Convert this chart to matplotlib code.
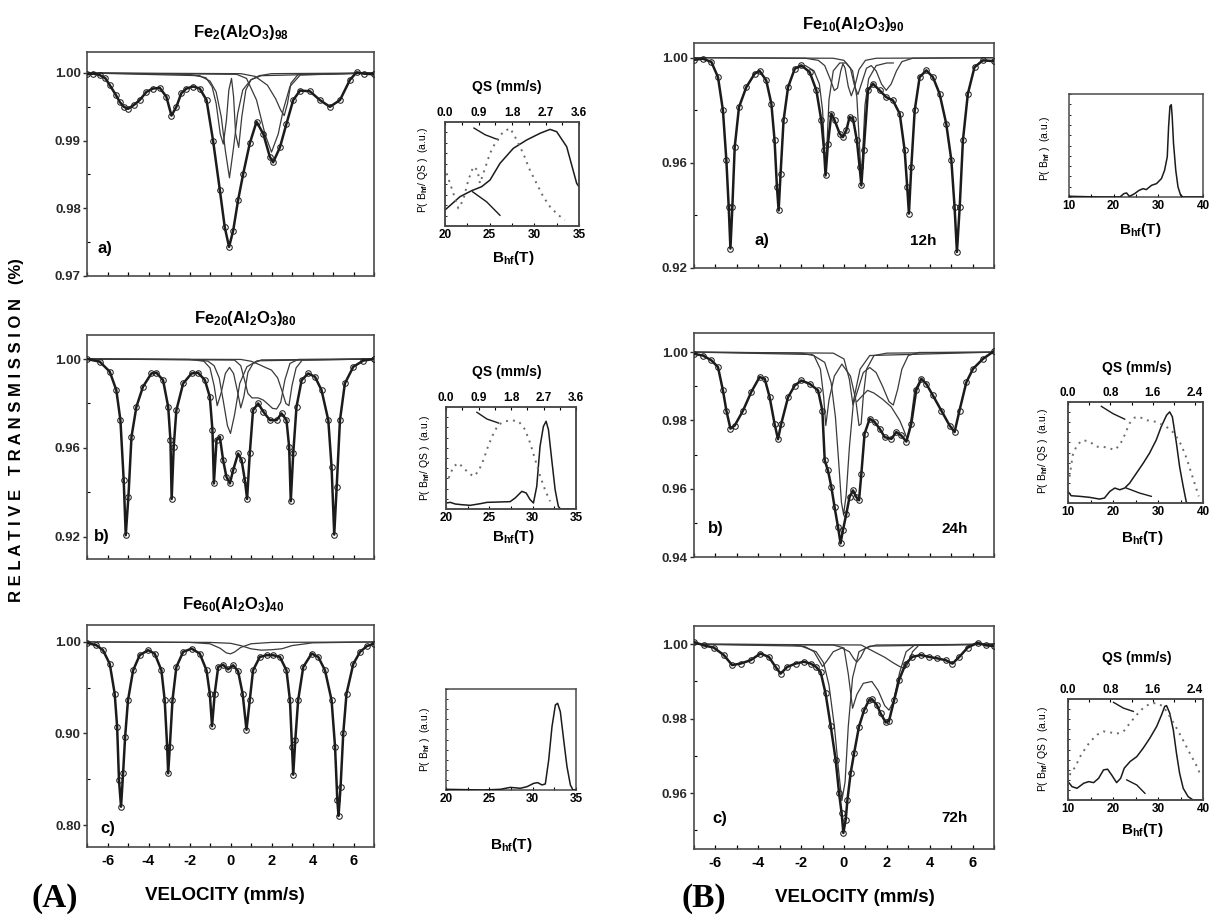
import numpy as np
import matplotlib
matplotlib.use("Agg")
import matplotlib.pyplot as plt
from matplotlib.ticker import MultipleLocator, NullLocator

plt.rcParams['font.family'] = ['Liberation Sans', 'DejaVu Sans']
plt.rcParams['font.weight'] = 'bold'
plt.rcParams['axes.unicode_minus'] = False
plt.rcParams['mathtext.fontset'] = 'custom'
plt.rcParams['mathtext.rm'] = 'Liberation Sans:bold'
plt.rcParams['mathtext.it'] = 'Liberation Sans:bold'
plt.rcParams['mathtext.bf'] = 'Liberation Sans:bold'
plt.rcParams['mathtext.default'] = 'bf'

# ---------------- DATA: Mossbauer spectra (velocity mm/s, relative transmission) -------------
# (A-a) Fe2(Al2O3)98
vel_Aa = [-7.0,-6.7,-6.38,-6.1,-5.89,-5.6,-5.4,-5.2,-5.0,-4.7,-4.43,-4.1,-3.78,-3.45,-3.13,-2.88,-2.64,-2.4,-2.15,-1.82,
          -1.5,-1.17,-0.85,-0.52,-0.28,-0.07,0.13,0.37,0.62,0.94,1.27,1.6,1.92,2.08,2.41,2.73,3.06,3.39,3.87,4.36,
          4.85,5.34,5.83,6.15,6.5,7.0]
tr_Aa = [0.9998,0.9999,0.9997,0.9992,0.9982,0.9968,0.9957,0.9950,0.9947,0.9953,0.9960,0.9972,0.9977,0.9978,0.9965,0.9937,0.9950,0.9970,0.9977,0.9980,
         0.9977,0.9960,0.9900,0.9827,0.9772,0.9743,0.9767,0.9812,0.9851,0.9896,0.9928,0.9910,0.9876,0.9868,0.9890,0.9925,0.9960,0.9974,0.9973,0.9960,
         0.9950,0.9960,0.9990,1.0001,0.9999,0.9998]
c1v_Aa = [-7,-1.5,-1.0,-0.7,-0.45,-0.25,-0.05,0.15,0.35,0.6,1.0,1.5,7]
c1t_Aa = [1.0,0.9996,0.9988,0.9972,0.9935,0.9885,0.9845,0.9890,0.9940,0.9975,0.9990,0.9996,1.0]
c2v_Aa = [-7,-2.0,-1.2,-0.9,-0.7,-0.5,-0.35,-0.2,-0.08,0.05,0.15,0.25,0.4,0.55,0.75,1.0,1.4,2.0,7]
c2t_Aa = [1.0,0.9998,0.9993,0.9980,0.9955,0.9910,0.9895,0.9930,0.9975,0.9992,0.9965,0.9910,0.9890,0.9935,0.9975,0.9990,0.9996,0.9999,1.0]
c3v_Aa = [-7,0.3,0.78,1.27,1.68,2.0,2.33,2.57,2.9,3.4,7]
c3t_Aa = [1.0,0.9998,0.9992,0.9960,0.9910,0.9883,0.9910,0.9945,0.9980,0.9997,1.0]
c4v_Aa = [-7,0.5,1.2,1.8,2.2,2.45,2.62,2.78,2.95,3.3,7]
c4t_Aa = [1.0,0.9999,0.9995,0.9982,0.9962,0.9945,0.9937,0.9955,0.9985,0.9998,1.0]

# (A-b) Fe20(Al2O3)80
vel_Ab = [-7.0,-6.38,-5.89,-5.57,-5.37,-5.21,-5.11,-4.98,-4.83,-4.59,-4.27,-3.86,-3.61,-3.29,-3.04,-2.93,-2.87,-2.77,-2.64,-2.31,
          -1.9,-1.58,-1.25,-1.01,-0.88,-0.81,-0.68,-0.52,-0.36,-0.2,-0.03,0.13,0.37,0.54,0.7,0.81,0.94,1.1,1.35,1.6,
          1.92,2.25,2.49,2.73,2.86,2.94,3.06,3.22,3.47,3.79,4.12,4.44,4.77,4.93,5.06,5.18,5.34,5.58,5.99,6.48,7.0]
tr_Ab = [1.0,0.9988,0.9943,0.986,0.9725,0.9455,0.9207,0.938,0.965,0.9785,0.9875,0.9935,0.9938,0.9905,0.9785,0.9635,0.9370,0.9605,0.977,0.989,
         0.9935,0.9938,0.9905,0.983,0.968,0.9440,0.9635,0.965,0.9545,0.947,0.944,0.950,0.9575,0.9545,0.9455,0.9370,0.9575,0.977,0.980,0.9763,
         0.9725,0.9725,0.9755,0.9725,0.9605,0.9360,0.9575,0.9785,0.9905,0.9935,0.992,0.986,0.9725,0.9515,0.9210,0.9425,0.9725,0.989,0.9965,0.9993,1.0]
c1v_Ab = [-7,-1.6,-1.1,-0.8,-0.55,-0.35,-0.15,0.0,0.2,0.45,0.8,1.3,7]
c1t_Ab = [1.0,0.9997,0.999,0.997,0.9915,0.981,0.970,0.9665,0.975,0.989,0.9965,0.9992,1.0]
c2v_Ab = [-7,-2.0,-1.3,-1.0,-0.8,-0.65,-0.45,-0.25,-0.05,0.15,0.35,0.5,0.65,0.85,1.1,1.5,7]
c2t_Ab = [1.0,0.9998,0.999,0.996,0.988,0.979,0.985,0.9935,0.9962,0.9935,0.985,0.978,0.983,0.994,0.998,0.9996,1.0]
c3v_Ab = [-7,0.2,0.5,0.7,0.85,1.05,1.35,1.6,1.85,2.05,2.25,2.45,2.65,2.9,3.3,7]
c3t_Ab = [1.0,0.9995,0.997,0.990,0.9845,0.9825,0.9825,0.9815,0.9795,0.9778,0.9775,0.9805,0.9905,0.998,0.9998,1.0]
c4v_Ab = [-7,0.5,1.0,1.4,1.7,2.0,2.3,2.5,2.7,2.85,3.0,3.2,3.5,7]
c4t_Ab = [1.0,0.9998,0.9990,0.9975,0.9962,0.9950,0.9915,0.9860,0.9800,0.9790,0.9880,0.9960,0.9995,1.0]

# (A-c) Fe60(Al2O3)40
vel_Ac = [-7.0,-6.54,-6.22,-5.89,-5.65,-5.53,-5.44,-5.34,-5.24,-5.14,-5.0,-4.75,-4.43,-4.02,-3.7,-3.37,-3.21,-3.09,-3.04,-2.96,
          -2.83,-2.64,-2.31,-1.9,-1.5,-1.17,-1.01,-0.9,-0.77,-0.6,-0.36,-0.12,0.13,0.37,0.59,0.78,0.94,1.1,1.43,1.76,
          2.08,2.41,2.73,2.9,3.0,3.06,3.16,3.3,3.55,3.96,4.28,4.61,4.93,5.1,5.21,5.27,5.37,5.5,5.66,5.99,
          6.32,6.64,7.0]
tr_Ac = [0.9989,0.9964,0.991,0.976,0.9436,0.9073,0.849,0.82,0.8564,0.8964,0.9364,0.969,0.9855,0.991,0.9873,0.969,0.9364,0.8855,0.8564,0.8855,
         0.9364,0.9727,0.9891,0.9927,0.9873,0.969,0.9436,0.908,0.9436,0.9727,0.975,0.970,0.9745,0.968,0.9436,0.904,0.9364,0.969,0.9836,0.9855,
         0.9855,0.9836,0.969,0.9364,0.8855,0.855,0.8927,0.9364,0.9727,0.9873,0.9836,0.969,0.9364,0.8855,0.8273,0.810,0.8418,0.900,0.9436,0.976,
         0.9891,0.9953,0.9982]
c1v_Ac = [-7,-2,-1,-0.5,-0.2,0.0,0.2,0.5,1,2,7]
c1t_Ac = [1.0,0.9995,0.998,0.993,0.988,0.987,0.989,0.994,0.998,0.9995,1.0]
c2v_Ac = [-7,-1,0,0.5,1.0,1.5,2.0,2.5,3.0,4.0,7]
c2t_Ac = [1.0,0.9995,0.9985,0.996,0.9925,0.991,0.9915,0.9925,0.996,0.999,1.0]

# (B-a) Fe10(Al2O3)90, 12h
vel_Ba = [-7.0,-6.58,-6.19,-5.88,-5.65,-5.49,-5.38,-5.3,-5.21,-5.1,-4.9,-4.56,-4.17,-3.94,-3.63,-3.39,-3.24,-3.13,-3.05,-2.96,
          -2.82,-2.61,-2.3,-1.99,-1.6,-1.29,-1.06,-0.93,-0.86,-0.75,-0.59,-0.44,-0.2,-0.05,0.11,0.26,0.42,0.6,0.73,0.81,
          0.92,1.12,1.35,1.66,1.97,2.28,2.6,2.83,2.95,3.03,3.14,3.3,3.53,3.84,4.15,4.46,4.77,5.01,5.16,5.27,
          5.4,5.55,5.78,6.09,6.48,7.0]
tr_Ba = [0.9992,0.9996,0.9984,0.9926,0.980,0.961,0.9432,0.9274,0.9432,0.966,0.9812,0.9888,0.9939,0.995,0.9914,0.9825,0.9686,0.9508,0.9419,0.9559,
         0.9762,0.9888,0.9958,0.9971,0.9945,0.9876,0.9762,0.9648,0.9552,0.9673,0.9787,0.9762,0.9711,0.9698,0.9724,0.9774,0.9768,0.9686,0.9584,0.9514,
         0.9648,0.9876,0.9901,0.9876,0.985,0.9838,0.9787,0.9648,0.9508,0.9407,0.9584,0.980,0.9926,0.9952,0.9926,0.9863,0.9749,0.961,0.9432,0.9261,
         0.9432,0.9686,0.9863,0.9964,0.999,0.9987]
c1v_Ba = [-7,-1.8,-1.2,-0.9,-0.65,-0.45,-0.3,-0.15,-0.05,0.05,0.2,0.34,0.5,0.7,1.0,1.5,7]
c1t_Ba = [1.0,0.9998,0.999,0.997,0.992,0.9875,0.9885,0.995,0.9977,0.996,0.989,0.9855,0.989,0.9955,0.999,0.9998,1.0]
c2v_Ba = [-7,-0.5,0.0,0.3,0.5,0.65,0.85,1.05,1.27,1.5,1.75,1.97,2.2,2.45,2.7,3.2,7]
c2t_Ba = [1.0,0.9998,0.999,0.996,0.989,0.986,0.991,0.996,0.997,0.995,0.990,0.9876,0.990,0.995,0.9985,0.9998,1.0]
c3v_Ba = [-2.3,-1.8,-1.4,-1.15,-1.0,-0.92,-0.86,-0.8,-0.7,-0.5,-0.2,0.1,0.4,0.6,0.72,0.81,0.88,0.98,1.15,1.5,2.0,2.3]
c3t_Ba = [0.9958,0.997,0.995,0.990,0.980,0.966,0.9565,0.966,0.984,0.995,0.998,0.998,0.995,0.985,0.967,0.9525,0.965,0.982,0.992,0.997,0.998,0.998]

# (B-b) 24h
vel_Bb = [-7.0,-6.58,-6.19,-5.88,-5.65,-5.49,-5.3,-5.1,-4.71,-4.33,-3.94,-3.7,-3.47,-3.24,-3.08,-2.93,-2.61,-2.3,-1.99,-1.6,
          -1.21,-1.01,-0.9,-0.75,-0.59,-0.44,-0.28,-0.16,-0.05,0.11,0.26,0.42,0.57,0.7,0.81,0.96,1.2,1.43,1.66,1.9,
          2.21,2.44,2.67,2.91,3.14,3.37,3.61,3.84,4.15,4.54,4.93,5.16,5.39,5.71,6.02,6.48,7.0]
tr_Bb = [0.9995,0.999,0.9976,0.9956,0.9888,0.9829,0.9776,0.9785,0.9829,0.9883,0.9927,0.9922,0.9868,0.979,0.9745,0.979,0.9868,0.9902,0.9917,0.9907,
         0.9888,0.9829,0.9683,0.9654,0.9605,0.9546,0.9488,0.9440,0.9478,0.9527,0.9576,0.9595,0.9576,0.9566,0.9644,0.9761,0.9805,0.9795,0.9776,0.9751,
         0.9746,0.9766,0.9756,0.9738,0.979,0.9888,0.9922,0.9907,0.9873,0.9829,0.9785,0.9766,0.9829,0.9912,0.9951,0.998,1.0003]
c1v_Bb = [-7,-1.5,-0.9,-0.6,-0.4,-0.25,-0.12,-0.02,0.1,0.25,0.45,0.75,1.2,7]
c1t_Bb = [1.0,0.9993,0.997,0.991,0.981,0.968,0.956,0.9525,0.958,0.972,0.986,0.995,0.999,1.0]
c2v_Bb = [-7,-2.0,-1.4,-1.1,-0.95,-0.85,-0.7,-0.45,-0.1,0.3,0.55,0.7,0.8,0.9,1.05,1.4,2.0,7]
c2t_Bb = [1.0,0.9997,0.999,0.995,0.987,0.9785,0.986,0.993,0.9965,0.993,0.986,0.9785,0.979,0.987,0.995,0.999,0.9997,1.0]
c3v_Bb = [-7,-0.5,0.0,0.25,0.42,0.6,0.9,1.2,1.5,1.8,2.1,2.3,2.5,2.7,3.0,3.5,7]
c3t_Bb = [1.0,0.9997,0.998,0.992,0.9845,0.988,0.994,0.9955,0.994,0.990,0.9855,0.9845,0.989,0.995,0.999,0.9999,1.0]
c4v_Bb = [0.6,0.9,1.1,1.4,1.8,2.2,2.6,2.8,2.95,3.1,3.3,3.6]
c4t_Bb = [0.9855,0.9875,0.9888,0.9880,0.9862,0.984,0.980,0.977,0.9745,0.979,0.9888,0.9922]

# (B-c) 72h
vel_Bc = [-7.0,-6.55,-6.08,-5.61,-5.22,-4.83,-4.36,-3.9,-3.51,-3.19,-2.96,-2.65,-2.26,-1.87,-1.56,-1.32,-1.09,-0.86,-0.62,-0.39,
          -0.23,-0.11,-0.03,0.08,0.16,0.31,0.47,0.7,0.94,1.17,1.32,1.53,1.71,1.95,2.1,2.34,2.57,2.88,3.19,3.58,
          3.97,4.36,4.75,5.06,5.38,5.77,6.23,6.62,7.0]
tr_Bc = [1.0006,0.9997,0.9991,0.9971,0.9944,0.9948,0.9957,0.9975,0.9966,0.9939,0.9921,0.9939,0.9948,0.9953,0.9948,0.9940,0.9925,0.9868,0.9780,0.9690,
         0.9600,0.9546,0.9493,0.9529,0.9582,0.9654,0.9707,0.9779,0.9823,0.9850,0.9852,0.9837,0.9814,0.9790,0.9794,0.9850,0.9904,0.9948,0.9966,0.9971,
         0.9966,0.9962,0.9957,0.9948,0.9966,0.9991,1.0004,0.9997,0.9995]
c1v_Bc = [-7,-2.0,-1.3,-0.95,-0.7,-0.45,-0.25,-0.1,0.05,0.2,0.4,0.7,1.2,7]
c1t_Bc = [1.0,0.9995,0.998,0.995,0.989,0.978,0.966,0.958,0.963,0.978,0.991,0.998,0.9995,1.0]
c2v_Bc = [-7,-2.5,-1.8,-1.4,-1.15,-1.0,-0.8,-0.5,-0.1,0.25,0.45,0.6,0.78,1.0,1.5,7]
c2t_Bc = [1.0,0.9999,0.9993,0.998,0.9955,0.9940,0.9955,0.998,0.999,0.998,0.9962,0.9952,0.9965,0.999,0.9998,1.0]
c3v_Bc = [-7,-0.5,0.0,0.2,0.4,0.6,0.9,1.3,1.6,1.9,2.1,2.3,2.6,2.9,3.3,7]
c3t_Bc = [1.0,0.9998,0.999,0.992,0.9828,0.9865,0.9895,0.9900,0.9875,0.9835,0.9823,0.9845,0.9925,0.998,0.9998,1.0]
c4v_Bc = [-7,0.8,1.4,1.9,2.3,2.6,2.85,3.0,3.2,3.5,7]
c4t_Bc = [1.0,0.9998,0.998,0.9965,0.995,0.994,0.9935,0.995,0.998,0.9998,1.0]

# ---------------- DATA: distributions P(Bhf) (solid) and P(QS) (dotted) ----------------------
bhf_Aa = [20.0,21.68,22.99,24.1,25.04,26.16,27.65,29.14,30.63,31.75,32.5,33.62,34.74,35.0]
pb_Aa = [0.154,0.282,0.340,0.378,0.442,0.603,0.747,0.827,0.891,0.929,0.907,0.763,0.41,0.378]
qs_Aa = [0.045,0.224,0.358,0.49,0.627,0.76,0.87,0.94,1.03,1.21,1.39,1.57,1.75,1.88,2.10,2.28,2.46,2.64,2.82,3.04,3.22]
pq_Aa = [0.506,0.314,0.170,0.25,0.442,0.571,0.538,0.41,0.506,0.699,0.827,0.907,0.94,0.859,0.699,0.538,0.41,0.282,0.186,0.106,0.058]

bhf_Ab = [20.0,20.5,21.07,21.84,22.8,23.95,24.72,26.25,27.4,27.98,28.75,29.25,29.7,30.09,30.47,30.85,31.24,31.55,31.82,32.2,32.59,32.96,33.2,35.0]
pb_Ab = [0.059,0.065,0.049,0.042,0.036,0.052,0.065,0.069,0.072,0.108,0.173,0.157,0.092,0.059,0.222,0.614,0.81,0.86,0.778,0.484,0.19,0.026,0.0,0.0]
qs_Ab = [0.074,0.21,0.35,0.49,0.63,0.76,0.9,1.04,1.18,1.32,1.45,1.64,1.82,2.01,2.19,2.33,2.47,2.61,2.74,2.88]
pq_Ab = [0.304,0.418,0.45,0.40,0.353,0.32,0.369,0.484,0.63,0.745,0.827,0.86,0.869,0.86,0.778,0.647,0.484,0.32,0.19,0.075]

bhf_Ac = [20.0,24.35,26.27,27.42,28.58,29.35,30.12,30.58,31.08,31.46,31.85,32.23,32.62,32.88,33.19,33.58,33.96,34.35,34.65,35.0]
pb_Ac = [0.007,0.0,0.007,0.026,0.017,0.033,0.066,0.073,0.05,0.06,0.297,0.627,0.842,0.858,0.776,0.495,0.231,0.05,0.0,0.0]

bhf_Ba = [10.0,16.9,21.4,22.3,22.9,23.5,24.0,24.7,25.7,26.6,27.3,28.5,29.6,30.7,31.4,32.0,32.3,32.6,32.9,33.1,33.4,33.9,34.4,35.0,35.5,40.0]
pb_Ba = [0.007,0.0,0.0,0.033,0.039,0.007,0.016,0.033,0.065,0.081,0.072,0.114,0.13,0.179,0.26,0.39,0.684,0.88,0.896,0.782,0.521,0.26,0.098,0.016,0.0,0.0]

bhf_Bb = [10.0,10.7,12.6,14.8,17.0,18.1,19.3,20.4,21.5,22.6,23.7,25.2,26.7,28.1,29.6,30.7,31.9,32.6,33.2,34.1,34.8,35.6,36.3,36.7,40.0]
pb_Bb = [0.115,0.072,0.066,0.056,0.039,0.049,0.115,0.148,0.131,0.148,0.197,0.295,0.393,0.492,0.623,0.754,0.869,0.902,0.852,0.59,0.36,0.164,0.007,0.0,0.0]
qs_Bb = [0.03,0.09,0.17,0.28,0.41,0.54,0.66,0.79,0.88,0.98,1.07,1.16,1.26,1.35,1.48,1.67,1.86,2.01,2.14,2.24,2.33,2.42,2.47]
pq_Bb = [0.262,0.475,0.574,0.623,0.607,0.557,0.557,0.541,0.525,0.574,0.672,0.787,0.846,0.852,0.82,0.803,0.754,0.689,0.574,0.443,0.295,0.148,0.066]

bhf_Bc = [10.0,10.9,12.0,13.5,14.6,15.7,16.8,17.9,18.8,19.7,20.8,21.7,22.5,23.8,25.3,26.7,28.2,29.7,30.8,31.5,31.9,32.6,33.4,34.1,34.8,35.6,36.7,37.8,40.0]
pb_Bc = [0.182,0.132,0.116,0.166,0.182,0.172,0.215,0.298,0.305,0.248,0.172,0.215,0.315,0.381,0.43,0.513,0.613,0.728,0.844,0.927,0.934,0.861,0.695,0.464,0.265,0.116,0.033,0.0,0.0]
qs_Bc = [0.03,0.14,0.23,0.33,0.42,0.55,0.67,0.8,0.92,1.05,1.17,1.3,1.42,1.55,1.67,1.8,1.92,2.05,2.17,2.3,2.42,2.49]
pq_Bc = [0.248,0.331,0.43,0.513,0.579,0.646,0.679,0.669,0.656,0.679,0.762,0.844,0.911,0.954,0.96,0.927,0.828,0.712,0.596,0.464,0.348,0.265]

# ---------------- FIGURE ----------------
W, H = 1219, 918
fig = plt.figure(figsize=(W / 100, H / 100), dpi=100)
INK = '#1b1b1b'
GRY = '#3a3a3a'


def add_ax(l, r, t, b):
    return fig.add_axes([l / W, 1 - b / H, (r - l) / W, (b - t) / H])


def ftext(x, y, s, **kw):
    kw.setdefault('ha', 'center')
    kw.setdefault('va', 'center')
    return fig.text(x / W, 1 - y / H, s, **kw)


def style_spines(ax, lw=1.2):
    for sp in ax.spines.values():
        sp.set_linewidth(lw)
        sp.set_color('#4a4a4a')


def main_panel(box, v, t, comps, ylim, ymaj, ymin, show_x=False):
    ax = add_ax(*box)
    for cv, ct in comps:
        ax.plot(cv, ct, color=GRY, lw=0.9, zorder=2)
    ax.plot(v, t, color=INK, lw=1.8, zorder=3)
    ax.plot(v, t, ls='none', marker='o', ms=4.0, mfc='none', mec='#202020', mew=0.75, zorder=4)
    ax.set_xlim(-7, 7)
    ax.set_ylim(*ylim)
    ax.xaxis.set_major_locator(MultipleLocator(2))
    ax.xaxis.set_minor_locator(MultipleLocator(1))
    ax.set_yticks(ymaj)
    ax.set_yticks(ymin, minor=True)
    ax.set_yticklabels(['%.2f' % y for y in ymaj])
    ax.tick_params(axis='y', which='major', direction='out', length=3, width=1.0, labelsize=9.5, pad=1.5,
                   colors='#2a2a2a')
    ax.tick_params(axis='y', which='minor', direction='in', length=2.5, width=0.8)
    ax.tick_params(axis='x', which='both', direction='in', length=3, width=0.9, labelsize=10.5, pad=5,
                   labelbottom=show_x)
    style_spines(ax)
    return ax


def inset(box, blim, bmaj, bmin, b, pb, qs=None, pq=None, qlim=None, qmaj=None, qmin=None, arrows=()):
    ax = add_ax(*box)
    ax.plot(b, pb, color=INK, lw=1.1, zorder=3)
    ax.set_xlim(*blim)
    ax.set_ylim(0, 1)
    ax.set_xticks(bmaj)
    ax.set_xticks(bmin, minor=True)
    ax.set_xticklabels([str(x) for x in bmaj])
    ax.yaxis.set_major_locator(NullLocator())
    ax.yaxis.set_minor_locator(MultipleLocator(0.1))
    ax.tick_params(axis='x', which='both', direction='in', length=2.5, width=0.8, labelsize=8.5, pad=2)
    ax.tick_params(axis='y', which='minor', direction='in', length=1.5, width=0.6)
    style_spines(ax, 1.1)
    if qs is not None:
        axt = ax.twiny()
        axt.plot(qs, pq, color='#6a6a6a', lw=1.4, ls=(0, (1, 2.6)), zorder=2)
        axt.set_xlim(*qlim)
        axt.set_xticks(qmaj)
        axt.set_xticks(qmin, minor=True)
        axt.set_xticklabels(['%.1f' % q for q in qmaj])
        axt.tick_params(axis='x', which='both', direction='in', length=2.5, width=0.8, labelsize=8.5, pad=2)
        style_spines(axt, 1.1)
    for xs, ys in arrows:
        ax.plot(xs, ys, transform=ax.transAxes, color=INK, lw=1.0)
    return ax


# main panels (A)
main_panel((87, 374, 52, 276), vel_Aa, tr_Aa,
           [(c1v_Aa, c1t_Aa), (c2v_Aa, c2t_Aa), (c3v_Aa, c3t_Aa), (c4v_Aa, c4t_Aa)],
           (0.97, 1.0031), [0.97, 0.98, 0.99, 1.00], [0.975, 0.985, 0.995])
main_panel((87, 374, 335, 559), vel_Ab, tr_Ab,
           [(c1v_Ab, c1t_Ab), (c2v_Ab, c2t_Ab), (c3v_Ab, c3t_Ab), (c4v_Ab, c4t_Ab)],
           (0.910, 1.0108), [0.92, 0.96, 1.00], [0.94, 0.98])
main_panel((87, 374, 625, 847), vel_Ac, tr_Ac,
           [(c1v_Ac, c1t_Ac), (c2v_Ac, c2t_Ac)],
           (0.776, 1.0185), [0.80, 0.90, 1.00], [0.85, 0.95], show_x=True)
# main panels (B)
main_panel((694, 994, 43, 268), vel_Ba, tr_Ba,
           [(c1v_Ba, c1t_Ba), (c2v_Ba, c2t_Ba), (c3v_Ba, c3t_Ba)],
           (0.92, 1.0056), [0.92, 0.96, 1.00], [0.94, 0.98])
main_panel((694, 994, 333, 557), vel_Bb, tr_Bb,
           [(c1v_Bb, c1t_Bb), (c2v_Bb, c2t_Bb), (c3v_Bb, c3t_Bb), (c4v_Bb, c4t_Bb)],
           (0.94, 1.0056), [0.94, 0.96, 0.98, 1.00], [0.95, 0.97, 0.99])
main_panel((694, 994, 626, 849), vel_Bc, tr_Bc,
           [(c1v_Bc, c1t_Bc), (c2v_Bc, c2t_Bc), (c3v_Bc, c3t_Bc), (c4v_Bc, c4t_Bc)],
           (0.945, 1.0049), [0.96, 0.98, 1.00], [0.95, 0.97, 0.99], show_x=True)

# insets
A_B = dict(blim=(20, 35), bmaj=[20, 25, 30, 35], bmin=[22.5, 27.5, 32.5])
A_Q = dict(qlim=(0, 3.6), qmaj=[0.0, 0.9, 1.8, 2.7, 3.6], qmin=[0.45, 1.35, 2.25, 3.15])
B_B = dict(blim=(10, 40), bmaj=[10, 20, 30, 40], bmin=[15, 25, 35])
B_Q = dict(qlim=(0, 2.55), qmaj=[0.0, 0.8, 1.6, 2.4], qmin=[0.4, 1.2, 2.0])

inset((445, 579, 122, 226), b=bhf_Aa, pb=pb_Aa, qs=qs_Aa, pq=pq_Aa,
      arrows=[([0.216, 0.30, 0.398], [0.942, 0.877, 0.829]), ([0.206, 0.311, 0.41], [0.329, 0.232, 0.103])],
      **A_B, **A_Q)
inset((446, 576, 407, 509), b=bhf_Ab, pb=pb_Ab, qs=qs_Ab, pq=pq_Ab,
      arrows=[([0.238, 0.315, 0.404], [0.948, 0.882, 0.843])], **A_B, **A_Q)
inset((446, 576, 689, 790), b=bhf_Ac, pb=pb_Ac, **A_B)
inset((1069, 1203, 94, 197), b=bhf_Ba, pb=pb_Ba, **B_B)
inset((1068, 1203, 402, 503), b=bhf_Bb, pb=pb_Bb, qs=qs_Bb, pq=pq_Bb,
      arrows=[([0.247, 0.333, 0.42], [0.957, 0.885, 0.83]), ([0.432, 0.531, 0.617], [0.148, 0.098, 0.066])],
      **B_B, **B_Q)
inset((1068, 1203, 699, 800), b=bhf_Bc, pb=pb_Bc, qs=qs_Bc, pq=pq_Bc,
      arrows=[([0.337, 0.41, 0.484], [0.967, 0.91, 0.877]), ([0.435, 0.509, 0.57], [0.199, 0.149, 0.066])],
      **B_B, **B_Q)

# ---------------- TEXT ----------------
ftext(241, 33, r'Fe$_{2}$(Al$_{2}$O$_{3}$)$_{98}$', fontsize=12)
ftext(245, 318, r'Fe$_{20}$(Al$_{2}$O$_{3}$)$_{80}$', fontsize=12)
ftext(233, 605, r'Fe$_{60}$(Al$_{2}$O$_{3}$)$_{40}$', fontsize=12)
ftext(853, 24, r'Fe$_{10}$(Al$_{2}$O$_{3}$)$_{90}$', fontsize=12)

ftext(98, 248, 'a)', fontsize=12, ha='left')
ftext(94, 537, 'b)', fontsize=12, ha='left')
ftext(100, 828, 'c)', fontsize=12, ha='left')
ftext(754, 241, 'a)', fontsize=12, ha='left')
ftext(923, 241, '12h', fontsize=11)
ftext(708, 529, 'b)', fontsize=12, ha='left')
ftext(955, 529, '24h', fontsize=11)
ftext(712, 818, 'c)', fontsize=12, ha='left')
ftext(955, 818, '72h', fontsize=11)

ftext(225, 895, 'VELOCITY (mm/s)', fontsize=13.5)
ftext(855, 897, 'VELOCITY (mm/s)', fontsize=13.5)
ftext(55, 899, '(A)', fontsize=24, family='Liberation Serif', fontweight='bold')
ftext(704, 899, '(B)', fontsize=24, family='Liberation Serif', fontweight='bold')
ftext(17, 430, 'R E L A T I V E   T R A N S M I S S I O N   (%)', fontsize=12, rotation=90)

# inset annotations
for x, y in [(507, 87), (507, 372), (1137, 368), (1137, 658)]:
    ftext(x, y, 'QS (mm/s)', fontsize=10)
for x, y in [(513, 258), (513, 537), (511, 845), (1140, 230), (1142, 538), (1142, 830)]:
    ftext(x, y, r'B$_{hf}$(T)', fontsize=11)
for x, y, s in [(423, 170, r'P( B$_{hf}$/ QS )  (a.u.)'), (425, 458, r'P( B$_{hf}$/ QS )  (a.u.)'),
                (425, 739, r'P( B$_{hf}$ )  (a.u.)'), (1045, 148, r'P( B$_{hf}$ )  (a.u.)'),
                (1043, 451, r'P( B$_{hf}$/ QS )  (a.u.)'), (1043, 749, r'P( B$_{hf}$/ QS )  (a.u.)')]:
    ftext(x, y, s, fontsize=7.5, rotation=90, fontweight='normal')

fig.savefig('out.png', dpi=100)
